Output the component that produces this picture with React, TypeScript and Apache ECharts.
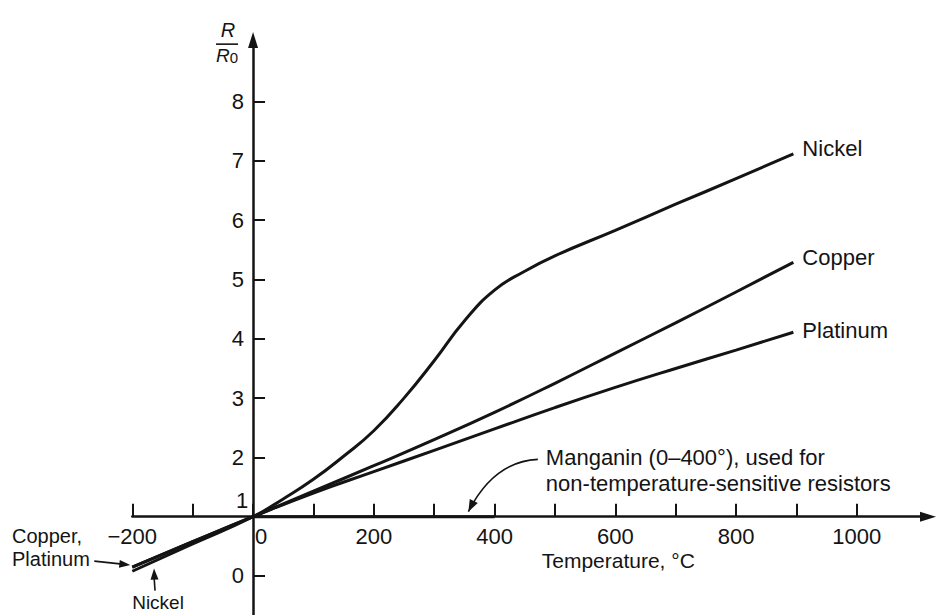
import React, { useEffect, useRef } from 'react';
import * as echarts from 'echarts';

// Temperature (°C) and R/R0 values
const nickelT = [-200, -100, 0, 50, 100, 150, 200, 250, 300, 350, 400, 450, 500, 600, 700, 800, 895];
const nickelR = [0.08, 0.54, 1, 1.3, 1.63, 2.02, 2.45, 3.0, 3.63, 4.3, 4.82, 5.14, 5.4, 5.83, 6.27, 6.7, 7.12];
const copperT = [-200, -100, 0, 100, 200, 300, 400, 500, 600, 700, 800, 895];
const copperR = [0.15, 0.58, 1, 1.43, 1.86, 2.3, 2.76, 3.25, 3.76, 4.27, 4.79, 5.29];
const platinumT = [-200, -100, 0, 100, 200, 300, 400, 500, 600, 700, 800, 895];
const platinumR = [0.15, 0.58, 1, 1.4, 1.76, 2.12, 2.48, 2.84, 3.18, 3.5, 3.81, 4.11];
const manganinT = [0, 400];
const manganinR = [1, 1];

const xTickValues = [-200, -100, 0, 100, 200, 300, 400, 500, 600, 700, 800, 900, 1000];
const xLabelValues = [-200, 0, 200, 400, 600, 800, 1000];
const yTickValues = [0, 1, 2, 3, 4, 5, 6, 7, 8];
const yLabelValues = [0, 2, 3, 4, 5, 6, 7, 8];

const INK = '#141414';
const FONT = '"Liberation Sans", Arial, sans-serif';

const zip = (xs: number[], ys: number[]) => xs.map((x, i) => [x, ys[i]]);

function arrowHead(tip: number[], from: number[], len: number, half: number) {
  const dx = tip[0] - from[0];
  const dy = tip[1] - from[1];
  const d = Math.hypot(dx, dy) || 1;
  const ux = dx / d, uy = dy / d;
  const bx = tip[0] - ux * len, by = tip[1] - uy * len;
  return {
    type: 'polygon',
    silent: true,
    shape: { points: [tip, [bx - uy * half, by + ux * half], [bx + uy * half, by - ux * half]] },
    style: { fill: INK },
  };
}

export default function App() {
  const ref = useRef<HTMLDivElement>(null);
  useEffect(() => {
    if (!ref.current) return;
    const chart = echarts.init(ref.current, null, { renderer: 'svg' });
    const lineSeries = (name: string, data: number[][], label: string | null, offY: number) => ({
      type: 'line',
      name,
      data,
      showSymbol: false,
      smooth: 0.5,
      silent: true,
      clip: false,
      lineStyle: { color: INK, width: 3 },
      endLabel: label
        ? { show: true, formatter: label, distance: 9, offset: [0, offY], fontSize: 22, color: INK, fontFamily: FONT }
        : { show: false },
      z: 3,
    });
    const option: any = {
      animation: false,
      backgroundColor: '#ffffff',
      textStyle: { fontFamily: FONT },
      grid: { left: 132.3, top: 40, width: 795.7, height: 575, containLabel: false, outerBoundsMode: 'none' },
      xAxis: {
        type: 'value',
        min: -200,
        max: 1118,
        offset: -98.3,
        position: 'bottom',
        axisLine: { show: true, onZero: false, symbol: ['none', 'triangle'], symbolSize: [10, 16], lineStyle: { color: INK, width: 2.5 } },
        axisTick: { show: true, inside: true, length: 13, customValues: xTickValues, lineStyle: { color: INK, width: 2 } },
        axisLabel: {
          show: true,
          customValues: xLabelValues,
          margin: 9,
          fontSize: 22,
          color: INK,
          fontFamily: FONT,
          formatter: (v: number) => (v === 0 ? '{z|0}' : v < 0 ? '\u2212' + Math.abs(v) : String(v)),
          rich: { z: { padding: [0, 0, 0, 16], fontSize: 22, color: INK, fontFamily: FONT } },
        },
        splitLine: { show: false },
      },
      yAxis: {
        type: 'value',
        min: -0.658,
        max: 9.04,
        offset: -120.75,
        position: 'left',
        axisLine: { show: true, onZero: false, symbol: ['none', 'triangle'], symbolSize: [10, 16], lineStyle: { color: INK, width: 2.5 } },
        axisTick: { show: true, inside: true, length: 12, customValues: yTickValues, lineStyle: { color: INK, width: 2 } },
        axisLabel: { show: true, customValues: yLabelValues, margin: 9, fontSize: 22, color: INK, fontFamily: FONT },
        splitLine: { show: false },
      },
      series: [
        lineSeries('Manganin', zip(manganinT, manganinR), null, 0),
        lineSeries('Nickel', zip(nickelT, nickelR), 'Nickel', -5),
        lineSeries('Copper', zip(copperT, copperR), 'Copper', -5),
        lineSeries('Platinum', zip(platinumT, platinumR), 'Platinum', -2),
      ],
    };
    chart.setOption(option);

    const p = (t: number, r: number) => chart.convertToPixel({ gridIndex: 0 }, [t, r]) as number[];
    const txt = (x: number, y: number, text: string, align: string, size = 22, extra: any = {}) => ({
      type: 'text',
      silent: true,
      x,
      y,
      style: { text, fill: INK, font: `${size}px ${FONT}`, align, verticalAlign: 'middle', ...extra },
    });

    const origin = p(0, 1);
    const top = p(0, 8.97);
    const mAnchor = p(485, 2.0);
    const mTip = p(355, 1);
    const cpStart = p(-200, copperR[0]);
    const niPoint = p(-164, 0.26);
    const tempAnchor = p(605, 1);

    const mStart = [mAnchor[0] - 8, mAnchor[1] + 2];
    const mEnd = [mTip[0] + 1, mTip[1] - 5];
    const mCtrl = [mAnchor[0] - 52, mAnchor[1] + 4];

    const cpArrowFrom = [cpStart[0] - 38, cpStart[1] - 6];
    const cpArrowTip = [cpStart[0] - 2, cpStart[1] - 2];

    const niArrowFrom = [niPoint[0] + 1, niPoint[1] + 30];
    const niArrowTip = [niPoint[0], niPoint[1] + 8];

    const graphic: any[] = [
      txt(origin[0] - 11, origin[1] - 16, '1', 'center'),
      // R / R0 axis title
      txt(top[0] - 25, top[1] - 14, 'R', 'center', 20, { font: `italic 20px ${FONT}` }),
      { type: 'line', silent: true, shape: { x1: top[0] - 37, y1: top[1], x2: top[0] - 15, y2: top[1] }, style: { stroke: INK, lineWidth: 1.6 } },
      {
        type: 'text', silent: true, x: top[0] - 26, y: top[1] + 11,
        style: {
          text: '{i|R}{s|0}', align: 'center', verticalAlign: 'middle', fill: INK,
          rich: { i: { font: `italic 19px ${FONT}`, fill: INK }, s: { font: `15px ${FONT}`, fill: INK, padding: [5, 0, 0, 0] } },
        },
      },
      // x axis title
      txt(tempAnchor[0], tempAnchor[1] + 44, 'Temperature, °C', 'center', 21),
      // Manganin annotation
      {
        type: 'text', silent: true, x: mAnchor[0], y: mAnchor[1] - 13,
        style: {
          text: 'Manganin (0\u2013400°), used for\nnon-temperature-sensitive resistors',
          font: `22px ${FONT}`, fill: INK, align: 'left', verticalAlign: 'top', lineHeight: 26,
        },
      },
      {
        type: 'bezierCurve', silent: true,
        shape: { x1: mStart[0], y1: mStart[1], x2: mEnd[0], y2: mEnd[1], cpx1: mCtrl[0], cpy1: mCtrl[1] },
        style: { stroke: INK, lineWidth: 1.6, fill: 'none' },
      },
      arrowHead(mEnd, mCtrl, 12, 4.5),
      // Copper, Platinum annotation
      txt(12, cpStart[1] - 31, 'Copper,', 'left', 20),
      txt(12, cpStart[1] - 8, 'Platinum', 'left', 20),
      { type: 'line', silent: true, shape: { x1: cpArrowFrom[0], y1: cpArrowFrom[1], x2: cpArrowTip[0] - 8, y2: cpArrowTip[1] - 1 }, style: { stroke: INK, lineWidth: 1.6 } },
      arrowHead(cpArrowTip, cpArrowFrom, 11, 4),
      // Nickel annotation (low end)
      txt(niPoint[0] + 4, niPoint[1] + 42, 'Nickel', 'center', 19),
      { type: 'line', silent: true, shape: { x1: niArrowFrom[0], y1: niArrowFrom[1], x2: niArrowTip[0], y2: niArrowTip[1] + 8 }, style: { stroke: INK, lineWidth: 1.6 } },
      arrowHead(niArrowTip, niArrowFrom, 11, 4),
    ];
    chart.setOption({ graphic });
    return () => chart.dispose();
  }, []);
  return <div ref={ref} style={{ position: 'fixed', left: 0, top: 0, width: 938, height: 615, background: '#fff' }} />;
}
